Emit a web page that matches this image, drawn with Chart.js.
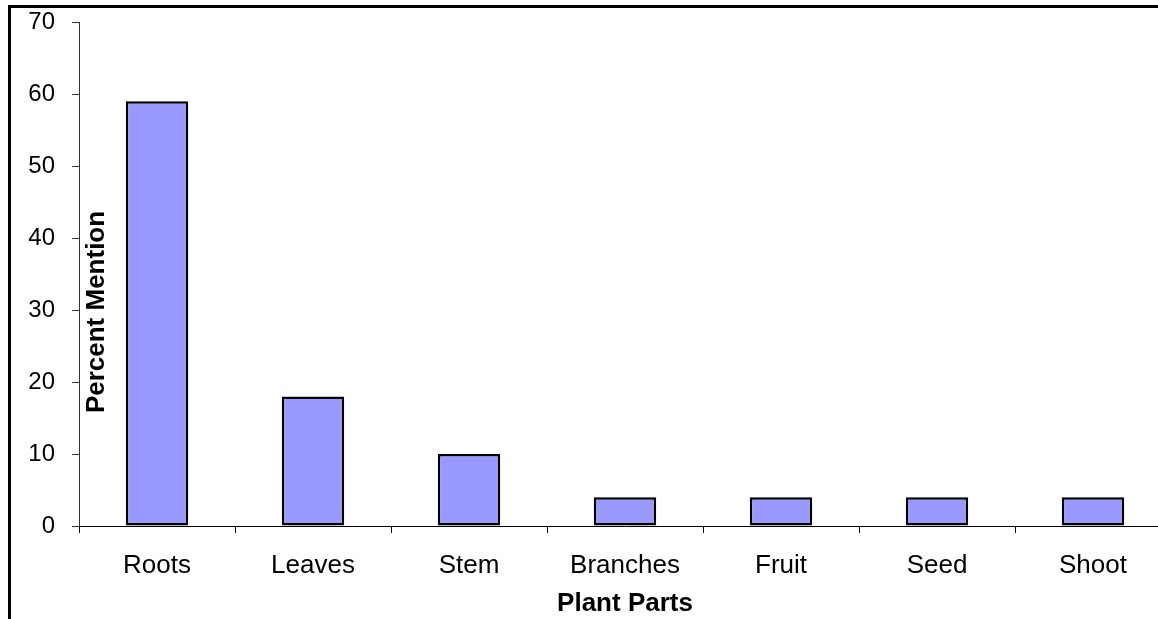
<!DOCTYPE html>
<html>
<head>
<meta charset="utf-8">
<script src="https://cdn.jsdelivr.net/npm/chart.js@4/dist/chart.umd.min.js"></script>
<style>
  html, body { margin: 0; padding: 0; background: #fff; overflow: hidden; }
  #wrap { width: 1171px; height: 619px; position: relative; }
</style>
</head>
<body>
<div id="wrap"><canvas id="myChart"></canvas></div>
<script>
const categories = ['Roots', 'Leaves', 'Stem', 'Branches', 'Fruit', 'Seed', 'Shoot'];
const percentMention = [59, 18, 10, 4, 4, 4, 4];
const yMin = 0;
const yMax = 70;
const yStep = 10;
const xTitle = 'Plant Parts';
const yTitle = 'Percent Mention';

Chart.defaults.font.family = "Arial, 'Liberation Sans', sans-serif";
Chart.defaults.color = '#000';

// outer frame (top and left edges of the original chart box)
const framePlugin = {
    id: 'frame',
    afterDraw(chart) {
        const c = chart.ctx;
        c.save();
        c.strokeStyle = '#000';
        c.lineWidth = 3;
        c.beginPath();
        c.moveTo(9.5, chart.height);
        c.lineTo(9.5, 6.5);
        c.lineTo(chart.width, 6.5);
        c.stroke();
        c.restore();
    }
};

// y title sits inside the plot, just right of the axis
const yTitlePlugin = {
    id: 'yTitleInside',
    afterDraw(chart) {
        const c = chart.ctx;
        const y = chart.scales.y;
        c.save();
        c.translate(y.right + 25, 312);
        c.rotate(-Math.PI / 2);
        c.font = "bold 26px Arial, 'Liberation Sans', sans-serif";
        c.fillStyle = '#000';
        c.textAlign = 'center';
        c.textBaseline = 'alphabetic';
        c.fillText(yTitle, 0, 0);
        c.restore();
    }
};

const ctx = document.getElementById('myChart').getContext('2d');
const data = {
    labels: categories,
    datasets: [{
        label: yTitle,
        data: percentMention,
        backgroundColor: '#9999FF',
        borderColor: '#000',
        borderWidth: 2.5,
        borderSkipped: false,
        barPercentage: 0.4,
        categoryPercentage: 1
    }]
};

const config = {
    type: 'bar',
    data: data,
    plugins: [framePlugin, yTitlePlugin],
    options: {
        responsive: true,
        maintainAspectRatio: false,
        animation: false,
        layout: { padding: { top: 22, left: 0, right: 0, bottom: 0 } },
        plugins: {
            legend: { display: false },
            tooltip: { enabled: false }
        },
        scales: {
            x: {
                afterFit(scale) { scale.height = 93; },
                grid: {
                    drawOnChartArea: false,
                    drawTicks: true,
                    tickLength: 7,
                    color: '#000'
                },
                border: { display: true, color: '#000', width: 1 },
                ticks: {
                    font: { size: 26 },
                    padding: 17,
                    maxRotation: 0
                },
                title: {
                    display: true,
                    text: xTitle,
                    font: { size: 26, weight: 'bold' },
                    padding: { top: 0, bottom: 0 }
                }
            },
            y: {
                min: yMin,
                max: yMax,
                afterFit(scale) {
                    scale.width = 79;
                    scale.paddingTop = 0;
                    scale.paddingBottom = 0;
                },
                grid: {
                    drawOnChartArea: false,
                    drawTicks: true,
                    tickLength: 7,
                    color: '#333'
                },
                border: { display: true, color: '#333', width: 1 },
                ticks: {
                    stepSize: yStep,
                    font: { size: 24 },
                    padding: 17
                }
            }
        }
    }
};

const myChart = new Chart(ctx, config);
</script>
</body>
</html>
